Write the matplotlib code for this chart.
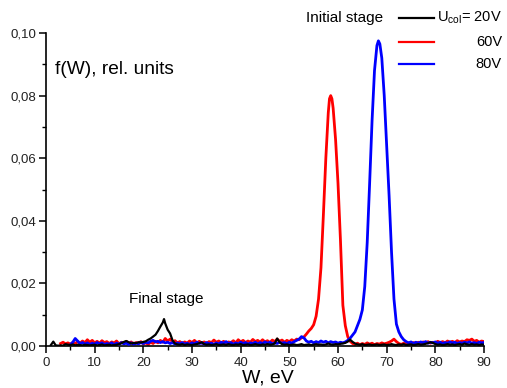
import matplotlib
matplotlib.use("Agg")
import matplotlib.pyplot as plt
from matplotlib.lines import Line2D

plt.rcParams['font.family'] = ['Liberation Sans', 'DejaVu Sans']

# ---------------- data ----------------
W_black = [1.0, 1.5, 2.0, 2.5, 3.0, 3.5, 4.0, 4.5, 5.0, 5.5,
           6.0, 6.5, 7.0, 7.5, 8.0, 8.5, 9.0, 9.5, 10.0, 10.5,
           11.0, 11.5, 12.0, 12.5, 13.0, 13.5, 14.0, 14.5, 15.0, 15.5,
           16.0, 16.5, 17.0, 17.5, 18.0, 18.5, 19.0, 19.5, 20.0, 20.5,
           21.0, 21.5, 22.0, 22.5, 23.0, 23.5, 24.0, 24.25, 24.5, 25.0,
           25.5, 26.0, 26.5, 27.0, 27.5, 28.0, 28.5, 29.0, 29.5, 30.0,
           30.5, 31.0, 31.5, 32.0, 32.5, 33.0, 33.5, 34.0, 34.5, 35.0,
           35.5, 36.0, 36.5, 37.0, 37.5, 38.0, 38.5, 39.0, 39.5, 40.0,
           40.5, 41.0, 41.5, 42.0, 42.5, 43.0, 43.5, 44.0, 44.5, 45.0,
           45.5, 46.0, 46.5, 47.0, 47.5, 48.0, 48.5, 49.0, 49.5, 50.0,
           50.5, 51.0, 51.5, 52.0, 52.5, 53.0, 53.5, 54.0, 54.5, 55.0,
           55.5, 56.0, 56.5, 57.0, 57.5, 58.0, 58.5, 59.0, 59.5, 60.0,
           60.5, 61.0, 61.5, 62.0, 62.5, 63.0, 63.5, 64.0, 64.5, 65.0,
           65.5, 66.0, 66.5, 67.0, 67.5, 68.0, 68.5, 69.0, 69.5, 70.0,
           70.5, 71.0, 71.5, 72.0, 72.5, 73.0, 73.5, 74.0, 74.5, 75.0,
           75.5, 76.0, 76.5, 77.0, 77.5, 78.0, 78.5, 79.0, 79.5, 80.0,
           80.5, 81.0, 81.5, 82.0, 82.5, 83.0, 83.5, 84.0, 84.5, 85.0,
           85.5, 86.0, 86.5, 87.0, 87.5, 88.0, 88.5, 89.0, 89.5, 90.0]
f_black = [.0003, .0014, .0002, .0001, .0002, .0001, .0006, .0004, .0003, .0005,
           .0002, .0004, .0003, .0002, .0004, .0003, .0002, .0003, .0004, .0002,
           .0003, .0005, .0002, .0003, .0004, .0002, .0003, .0004, .0006, .0009,
           .0013, .0016, .0012, .0008, .0010, .0009, .0012, .0011, .0013, .0015,
           .0020, .0024, .0030, .0036, .0048, .0062, .0075, .0086, .0072, .0052,
           .0040, .0018, .0008, .0005, .0004, .0006, .0003, .0005, .0004, .0003,
           .0005, .0006, .0009, .0012, .0006, .0004, .0005, .0003, .0004, .0006,
           .0003, .0004, .0005, .0003, .0006, .0004, .0003, .0005, .0004, .0006,
           .0003, .0004, .0005, .0003, .0004, .0006, .0004, .0003, .0005, .0004,
           .0006, .0004, .0005, .0008, .0024, .0012, .0006, .0004, .0005, .0003,
           .0004, .0005, .0003, .0004, .0006, .0003, .0004, .0005, .0003, .0004,
           .0006, .0004, .0005, .0003, .0005, .0008, .0005, .0004, .0006, .0005,
           .0007, .0008, .0010, .0014, .0020, .0013, .0008, .0005, .0004, .0006,
           .0003, .0004, .0005, .0003, .0004, .0005, .0003, .0004, .0005, .0003,
           .0004, .0006, .0004, .0003, .0005, .0004, .0006, .0003, .0004, .0005,
           .0003, .0004, .0006, .0004, .0005, .0007, .0009, .0012, .0010, .0006,
           .0004, .0005, .0003, .0004, .0006, .0004, .0005, .0003, .0005, .0006,
           .0004, .0008, .0005, .0004, .0006, .0004, .0005, .0003, .0005, .0004]

W_red = [3.0, 3.5, 4.0, 4.5, 5.0, 5.5, 6.0, 6.5, 7.0, 7.5,
         8.0, 8.5, 9.0, 9.5, 10.0, 10.5, 11.0, 11.5, 12.0, 12.5,
         13.0, 13.5, 14.0, 14.5, 15.0, 15.5, 16.0, 16.5, 17.0, 17.5,
         18.0, 18.5, 19.0, 19.5, 20.0, 20.5, 21.0, 21.5, 22.0, 22.5,
         23.0, 23.5, 24.0, 24.5, 25.0, 25.5, 26.0, 26.5, 27.0, 27.5,
         28.0, 28.5, 29.0, 29.5, 30.0, 30.5, 31.0, 31.5, 32.0, 32.5,
         33.0, 33.5, 34.0, 34.5, 35.0, 35.5, 36.0, 36.5, 37.0, 37.5,
         38.0, 38.5, 39.0, 39.5, 40.0, 40.5, 41.0, 41.5, 42.0, 42.5,
         43.0, 43.5, 44.0, 44.5, 45.0, 45.5, 46.0, 46.5, 47.0, 47.5,
         48.0, 48.5, 49.0, 49.5, 50.0, 50.5, 51.0, 51.5, 52.0, 52.5,
         53.0, 53.5, 54.0, 54.5, 55.0, 55.5, 56.0, 56.5, 57.0, 57.5,
         58.0, 58.25, 58.5, 58.75, 59.0, 59.5, 60.0, 60.5, 61.0, 61.5,
         62.0, 62.5, 63.0, 63.5, 64.0, 64.5, 65.0, 65.5, 66.0, 66.5,
         67.0, 67.5, 68.0, 68.5, 69.0, 69.5, 70.0, 70.5, 71.0, 71.5,
         72.0, 72.5, 73.0, 73.5, 74.0, 74.5, 75.0, 75.5, 76.0, 76.5,
         77.0, 77.5, 78.0, 78.5, 79.0, 79.5, 80.0, 80.5, 81.0, 81.5,
         82.0, 82.5, 83.0, 83.5, 84.0, 84.5, 85.0, 85.5, 86.0, 86.5,
         87.0, 87.5, 88.0, 88.5, 89.0, 89.5, 90.0]
f_red = [.0008, .0012, .0007, .0010, .0006, .0011, .0008, .0014, .0009, .0016,
         .0011, .0020, .0012, .0018, .0010, .0015, .0009, .0017, .0011, .0014,
         .0008, .0013, .0010, .0016, .0007, .0012, .0009, .0015, .0008, .0013,
         .0006, .0011, .0009, .0014, .0007, .0010, .0005, .0012, .0008, .0015,
         .0010, .0018, .0012, .0024, .0016, .0022, .0013, .0017, .0010, .0014,
         .0008, .0013, .0009, .0016, .0011, .0018, .0010, .0015, .0009, .0013,
         .0008, .0014, .0011, .0019, .0012, .0016, .0010, .0015, .0008, .0013,
         .0011, .0017, .0010, .0020, .0013, .0018, .0011, .0016, .0012, .0021,
         .0014, .0018, .0012, .0020, .0013, .0017, .0011, .0019, .0014, .0022,
         .0015, .0019, .0012, .0018, .0014, .0020, .0016, .0022, .0020, .0026,
         .0029, .0038, .0048, .0056, .0068, .0095, .0150, .0250, .0420, .0600,
         .0745, .0790, .0800, .0790, .0760, .0660, .0520, .0340, .0130, .0065,
         .0030, .0015, .0008, .0005, .0009, .0004, .0008, .0005, .0010, .0006,
         .0009, .0004, .0008, .0006, .0010, .0007, .0009, .0012, .0016, .0022,
         .0014, .0008, .0005, .0009, .0006, .0010, .0007, .0011, .0008, .0012,
         .0009, .0013, .0010, .0014, .0009, .0012, .0010, .0015, .0011, .0014,
         .0010, .0016, .0012, .0015, .0011, .0017, .0013, .0016, .0014, .0020,
         .0018, .0022, .0015, .0018, .0012, .0016, .0014]

W_blue = [5.0, 5.5, 6.0, 6.5, 7.0, 7.5, 8.0, 8.5, 9.0, 9.5,
          10.0, 10.5, 11.0, 11.5, 12.0, 12.5, 13.0, 13.5, 14.0, 14.5,
          15.0, 15.5, 16.0, 16.5, 17.0, 17.5, 18.0, 18.5, 19.0, 19.5,
          20.0, 20.5, 21.0, 21.5, 22.0, 22.5, 23.0, 23.5, 24.0, 24.5,
          25.0, 25.5, 26.0, 26.5, 27.0, 27.5, 28.0, 28.5, 29.0, 29.5,
          30.0, 30.5, 31.0, 31.5, 32.0, 32.5, 33.0, 33.5, 34.0, 34.5,
          35.0, 35.5, 36.0, 36.5, 37.0, 37.5, 38.0, 38.5, 39.0, 39.5,
          40.0, 40.5, 41.0, 41.5, 42.0, 42.5, 43.0, 43.5, 44.0, 44.5,
          45.0, 45.5, 46.0, 46.5, 47.0, 47.5, 48.0, 48.5, 49.0, 49.5,
          50.0, 50.5, 51.0, 51.5, 52.0, 52.5, 53.0, 53.5, 54.0, 54.5,
          55.0, 55.5, 56.0, 56.5, 57.0, 57.5, 58.0, 58.5, 59.0, 59.5,
          60.0, 60.5, 61.0, 61.5, 62.0, 62.5, 63.0, 63.5, 64.0, 64.5,
          65.0, 65.5, 66.0, 66.5, 67.0, 67.5, 68.0, 68.3, 68.6, 69.0,
          69.5, 70.0, 70.5, 71.0, 71.5, 72.0, 72.5, 73.0, 73.5, 74.0,
          74.5, 75.0, 75.5, 76.0, 76.5, 77.0, 77.5, 78.0, 78.5, 79.0,
          79.5, 80.0, 80.5, 81.0, 81.5, 82.0, 82.5, 83.0, 83.5, 84.0,
          84.5, 85.0, 85.5, 86.0, 86.5, 87.0, 87.5, 88.0, 88.5, 89.0,
          89.5, 90.0]
f_blue = [.0004, .0012, .0024, .0016, .0008, .0011, .0006, .0010, .0005, .0009,
          .0006, .0011, .0007, .0010, .0005, .0008, .0006, .0010, .0004, .0009,
          .0006, .0011, .0007, .0009, .0005, .0010, .0006, .0009, .0007, .0011,
          .0008, .0012, .0010, .0015, .0018, .0013, .0015, .0011, .0014, .0010,
          .0012, .0008, .0011, .0006, .0010, .0007, .0011, .0006, .0009, .0005,
          .0010, .0007, .0012, .0008, .0010, .0006, .0011, .0007, .0009, .0005,
          .0010, .0007, .0012, .0009, .0014, .0008, .0011, .0006, .0010, .0007,
          .0012, .0008, .0011, .0006, .0010, .0008, .0012, .0007, .0011, .0008,
          .0013, .0009, .0012, .0007, .0010, .0008, .0012, .0009, .0011, .0007,
          .0012, .0009, .0014, .0018, .0022, .0030, .0026, .0016, .0012, .0015,
          .0010, .0014, .0011, .0016, .0012, .0015, .0010, .0014, .0011, .0013,
          .0009, .0012, .0010, .0013, .0018, .0025, .0035, .0045, .0065, .0085,
          .0115, .0190, .0330, .0520, .0720, .0880, .0960, .0975, .0965, .0920,
          .0800, .0640, .0480, .0300, .0150, .0070, .0045, .0030, .0020, .0014,
          .0010, .0013, .0008, .0012, .0009, .0013, .0010, .0014, .0009, .0012,
          .0010, .0013, .0009, .0012, .0008, .0011, .0009, .0013, .0010, .0012,
          .0008, .0011, .0009, .0012, .0010, .0013, .0009, .0011, .0008, .0012,
          .0010, .0011]

x_ticks = [0, 10, 20, 30, 40, 50, 60, 70, 80, 90]
x_ticklabels = ["0", "10", "20", "30", "40", "50", "60", "70", "80", "90"]
y_ticks = [0.00, 0.02, 0.04, 0.06, 0.08, 0.10]
y_ticklabels = ["0,00", "0,02", "0,04", "0,06", "0,08", "0,10"]
legend_labels = ["U$_{\\mathregular{col}}$= 20V", "60V", "80V"]
colors = ["#000000", "#ff0000", "#0000ff"]

# ---------------- figure ----------------
fig = plt.figure(figsize=(5.07, 3.88), dpi=100)
ax = fig.add_axes([46 / 507, 1 - 346 / 388, 438 / 507, 313 / 388])

ax.plot(W_red, f_red, color=colors[1], lw=2.0, zorder=2)
ax.plot(W_blue, f_blue, color=colors[2], lw=2.0, zorder=3)
ax.plot(W_black, f_black, color=colors[0], lw=1.6, zorder=4)

ax.set_xlim(0, 90)
ax.set_ylim(0, 0.10)
for s in ("top", "right"):
    ax.spines[s].set_visible(False)
for s in ("left", "bottom"):
    ax.spines[s].set_linewidth(1.2)

ax.set_xticks(x_ticks)
ax.set_xticklabels(x_ticklabels)
ax.set_yticks(y_ticks)
ax.set_yticklabels(y_ticklabels)
ax.set_xticks([5, 15, 25, 35, 45, 55, 65, 75, 85], minor=True)
ax.set_yticks([0.01, 0.03, 0.05, 0.07, 0.09], minor=True)
ax.tick_params(which="major", direction="out", length=5, width=1.1,
               labelsize=9.5, colors="#000000", labelcolor="#222222")
ax.tick_params(which="minor", direction="out", length=3, width=1.0)
ax.tick_params(axis="x", pad=3)
ax.tick_params(axis="y", pad=2)

# axis title as figure text (placed near bottom edge as in reference)
fig.text(268 / 507, 1 - 378 / 388, "W, eV", fontsize=14,
         ha="center", va="center")

ax.text(0.02, 0.882, "f(W), rel. units", transform=ax.transAxes,
        fontsize=13.8, ha="left", va="center")
ax.text(0.275, 0.15, "Final stage", transform=ax.transAxes,
        fontsize=11, ha="center", va="center")

# manual legend
fig.text(383 / 507, 1 - 18 / 388, "Initial stage", fontsize=11,
         ha="right", va="center")
legend_y = [1 - 18 / 388, 1 - 42 / 388, 1 - 64 / 388]
for yy, c, lab in zip(legend_y, colors, legend_labels):
    fig.add_artist(Line2D([399 / 507, 434 / 507], [yy, yy], color=c, lw=1.6,
                          transform=fig.transFigure))
    fig.text(502 / 507, yy, lab, fontsize=10.5, ha="right", va="center")

fig.savefig("out.png", dpi=100)
